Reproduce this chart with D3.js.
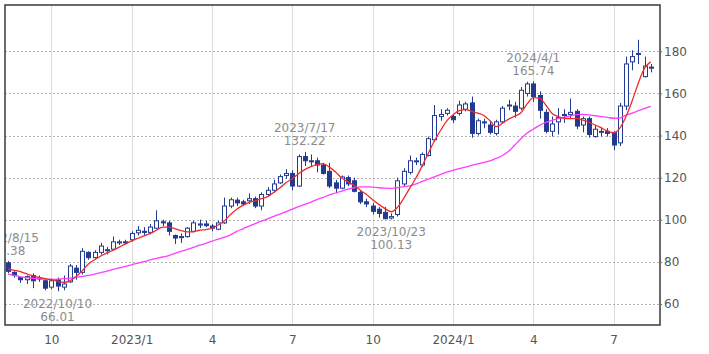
<!DOCTYPE html>
<html>
<head>
<meta charset="utf-8">
<script src="https://cdn.jsdelivr.net/npm/d3@7"></script>
<style>
  body { margin: 0; background: #fff; }
  svg { display: block; font-family: "DejaVu Sans", Verdana, sans-serif; }
</style>
</head>
<body>
<svg id="chart" width="709" height="354"></svg>
<script>
// weekly candles, first week 2022/8/15 (Mondays)
const startDate = "2022-08-15";
const opens = [79.5,75,72.5,71.5,73.5,72,71,68,71.5,68,70.5,77,75,84.5,82,84.5,85.3,86,89,89.5,
  90.5,93.8,94.5,94,96,99,98.5,92.5,91.5,92,94.5,97.5,98,97,95.5,98.5,106.5,109.3,108.5,109,
  110,106.5,112,114,117.5,121,122,116,130,128,128,126,123,117.5,115,120,118.5,113,108.5,106.5,
  105,103.5,100.8,102.5,117,122.5,127.5,126,130.5,138,149,150.5,149,150.5,152.5,155.5,141,146,145,141,
  146.5,154,154,153,160,164.5,159,151,142,146.5,149.5,150,151.5,145,148,139.5,141.5,142,141.5,136.5,
  154,175,178.5,168,172.5];
const highs = [80.38,75.5,73,73.5,74.5,73.5,71.5,72,72.5,73.5,79,78.5,86.5,85,85.5,89,87,92,90.5,90.5,
  94.5,97,96.5,98,104.5,100,99.5,93,93.5,96.5,99.5,100,99.5,98,99.5,110.5,110.5,110.5,109.5,112.5,
  111,113,115.5,119,121.5,124,123.5,131,132.22,131,129.5,127,127,119,121,121,120,114,110,108,
  106,106,103,120,124.5,130.5,129.5,132,139.5,154.5,152.5,153,150,156.5,156,158.5,148,148,147,147.5,
  154,157,156,163,165.5,165.74,161,152.5,149,153,152.5,157.5,152.5,149,149,145,144,143.5,142,155.5,
  177.5,180.5,185.5,177.5,174];
const lows = [74.5,72.5,70,69.5,67.5,70.5,66.5,67,66.01,66.5,70,71.5,74,81,81.5,83.5,83.5,85.5,88,88.5,
  89.5,92.5,92.5,93,95.5,97,92.5,88.5,89,91.5,94,96,96.5,94.5,95,98,105.5,106.5,106.5,107.5,
  105.5,104.5,111,113,117,119.5,114,115.5,125.5,125.5,122.5,121.5,115,112.5,114.5,116,113,107.5,106,102.5,
  101,100.2,100.13,101.5,116,121.5,126,125,130,137,147,149.5,146,149.5,151.5,139,140,143.5,140.5,140,
  145.5,152,148.5,152,158.5,156,148,141,139.5,140.5,146,148,143,141.5,139,139,139.5,139.5,133,135,
  152,171,174,167.5,170];
const closes = [75.5,73.5,71.5,73,71,72.3,67.5,71,68.5,69.5,78,75,85,82,84.5,87.5,85.8,89.5,89.5,89,
  93.5,95,94,96.5,99.5,98.5,94.5,91.3,92,96,98.5,98,97.2,96,98.5,106.5,109.5,108,107.5,110,
  106.5,112,114,117,120.5,122,116,130,128,127.5,126,122,116,115,120.3,117,113.5,108.5,107.5,104,
  103,100.5,101.5,118.5,123,128,128,131,138.5,149.5,150,152,147.5,154.5,155,141,147,146.5,141.5,146.5,
  153,154.5,151.5,161.5,164.5,158.5,152,142,145.5,148.5,150,151,144.5,148,140.5,143,142,141,135.5,154,
  174,177.5,179,173,172];
// 13-week (red) and 26-week (magenta) moving averages
const maShort = [76.7,76.0,75.3,74.3,73.5,72.6,72.0,71.5,70.8,70.3,71.0,73.0,75.8,79.0,81.0,82.8,84.3,85.5,87.0,88.5,
  90.0,91.2,92.3,93.5,95.0,96.5,96.5,95.8,94.8,94.2,94.3,95.0,95.3,96.0,97.5,99.5,102.5,105.0,106.8,108.2,
  109.0,110.0,111.0,113.0,115.2,117.7,119.5,121.8,123.8,125.2,126.2,126.7,125.0,122.7,119.8,118.0,116.3,114.0,112.0,109.5,
  107.3,105.3,103.8,105.8,110.0,115.0,119.8,125.5,131.5,137.5,142.5,147.0,149.8,151.8,152.3,151.5,150.6,149.5,147.0,144.2,
  145.8,147.8,149.2,150.8,155.0,158.0,157.8,154.5,150.6,149.0,148.2,148.0,148.1,147.3,146.3,145.0,143.6,142.2,141.2,143.5,
  149.0,156.5,165.0,172.0,175.0];
const maLong = [74.2,73.6,72.9,72.5,72.2,72.0,71.8,71.7,71.8,72.0,72.2,72.6,73.1,73.6,74.2,74.9,75.6,76.4,77.1,77.9,
  78.6,79.4,80.1,80.9,81.6,82.3,83.0,84.0,85.0,85.9,86.9,87.9,88.8,89.8,90.8,91.7,92.8,94.5,95.7,97.0,
  98.2,99.3,100.4,101.6,102.7,103.9,105.0,106.2,107.3,108.4,109.6,110.6,111.8,112.7,113.6,114.5,115.2,115.6,115.6,115.5,
  115.2,115.0,114.9,115.2,115.7,116.1,117.0,118.2,119.3,120.4,121.5,122.6,123.5,124.3,125.0,125.8,126.5,127.2,128.0,129.2,
  130.5,132.5,135.5,138.5,141.2,143.0,144.8,146.2,147.2,148.0,148.7,149.3,149.9,150.0,149.8,149.4,149.0,148.6,148.2,148.3,
  149.7,150.6,151.8,152.9,153.9];

const tickDates = ["2022-10-03","2023-01-02","2023-04-03","2023-07-03","2023-10-02","2024-01-01","2024-04-01","2024-07-01"];
const tickLabels = ["10","2023/1","4","7","10","2024/1","4","7"];
const yTicks = [60, 80, 100, 120, 140, 160, 180];

// peak / trough notes
const notes = [
  { date: "2022-08-15", label: "2022/8/15", value: 80.38, kind: "high" },
  { date: "2022-10-10", label: "2022/10/10", value: 66.01, kind: "low" },
  { date: "2023-07-17", label: "2023/7/17", value: 132.22, kind: "high" },
  { date: "2023-10-23", label: "2023/10/23", value: 100.13, kind: "low" },
  { date: "2024-04-01", label: "2024/4/1", value: 165.74, kind: "high" }
];

const parse = d3.utcParse("%Y-%m-%d");
const weeks = d3.utcMonday.range(parse(startDate), d3.utcDay.offset(parse(startDate), opens.length * 7));
const data = weeks.map((d, i) => ({
  date: d, open: opens[i], high: highs[i], low: lows[i], close: closes[i],
  ma13: maShort[i], ma26: maLong[i]
}));

const svg = d3.select("#chart");
const plot = { left: 5, right: 660, top: 5, bottom: 325 };

const x = d3.scaleUtc()
    .domain([d3.utcHour.offset(weeks[0], -84), d3.utcHour.offset(weeks[weeks.length - 1], 24 * 7 + 84)])
    .range([plot.left, plot.right]);
const y = d3.scaleLinear()
    .domain([50, 202])
    .range([plot.bottom, plot.top]);

svg.append("defs").append("clipPath").attr("id", "clip")
  .append("rect")
    .attr("x", plot.left).attr("y", plot.top)
    .attr("width", plot.right - plot.left).attr("height", plot.bottom - plot.top);

// vertical month grid
svg.append("g")
  .selectAll("line")
  .data(tickDates)
  .enter().append("line")
    .attr("x1", d => Math.round(x(parse(d))) + 0.5)
    .attr("x2", d => Math.round(x(parse(d))) + 0.5)
    .attr("y1", plot.top).attr("y2", plot.bottom)
    .attr("stroke", "#dcdcdc").attr("stroke-width", 1);

// horizontal dotted grid
svg.append("g")
  .selectAll("line")
  .data(yTicks)
  .enter().append("line")
    .attr("x1", plot.left).attr("x2", plot.right)
    .attr("y1", d => Math.round(y(d)) + 0.5)
    .attr("y2", d => Math.round(y(d)) + 0.5)
    .attr("stroke", "#b4b4b4").attr("stroke-dasharray", "2,2");

const g = svg.append("g").attr("clip-path", "url(#clip)");
const navy = "#233a91";
const bodyW = 4;

// wicks
g.append("g")
  .selectAll("line")
  .data(data)
  .enter().append("line")
    .attr("x1", d => Math.round(x(d.date)) + 0.5)
    .attr("x2", d => Math.round(x(d.date)) + 0.5)
    .attr("y1", d => y(d.high))
    .attr("y2", d => y(d.low))
    .attr("stroke", navy).attr("stroke-width", 1);

// bodies
g.append("g")
  .selectAll("rect")
  .data(data)
  .enter().append("rect")
    .attr("x", d => Math.round(x(d.date)) - bodyW / 2 + 0.5)
    .attr("y", d => y(Math.max(d.open, d.close)))
    .attr("width", bodyW)
    .attr("height", d => Math.max(1, Math.abs(y(d.open) - y(d.close))))
    .attr("fill", d => d.close >= d.open ? "#fff" : navy)
    .attr("stroke", navy).attr("stroke-width", 1);

// moving averages
const lineShort = d3.line().x(d => x(d.date)).y(d => y(d.ma13)).curve(d3.curveMonotoneX);
const lineLong = d3.line().x(d => x(d.date)).y(d => y(d.ma26)).curve(d3.curveMonotoneX);
g.append("path").datum(data).attr("d", lineLong)
    .attr("fill", "none").attr("stroke", "#ff3cff").attr("stroke-width", 1.3);
g.append("path").datum(data).attr("d", lineShort)
    .attr("fill", "none").attr("stroke", "#f22a2a").attr("stroke-width", 1.3);

// notes
const nt = g.append("g")
  .attr("font-size", "12px").attr("fill", "#8c8c8c").attr("text-anchor", "middle");
notes.forEach(n => {
  const cx = x(parse(n.date));
  const cy = y(n.value);
  const b1 = n.kind === "high" ? cy - 19.5 : cy + 17;
  nt.append("text").attr("x", cx).attr("y", b1).text(n.label);
  nt.append("text").attr("x", cx).attr("y", b1 + 13).text(n.value.toFixed(2));
});

// frame
svg.append("rect")
    .attr("x", plot.left).attr("y", plot.top)
    .attr("width", plot.right - plot.left).attr("height", plot.bottom - plot.top)
    .attr("fill", "none").attr("stroke", "#3a3a3a").attr("stroke-width", 1.5);

// y axis (right)
const ya = svg.append("g")
    .attr("transform", `translate(${plot.right},0)`)
    .call(d3.axisRight(y).tickValues(yTicks).tickSize(2).tickPadding(2));
ya.select(".domain").remove();
ya.selectAll("line").attr("stroke", "#666");
ya.selectAll("text").attr("fill", "#555").attr("font-size", "12px")
    .attr("font-family", "DejaVu Sans, Verdana, sans-serif");

// x axis
const xa = svg.append("g")
    .attr("transform", `translate(0,${plot.bottom})`)
    .call(d3.axisBottom(x).tickValues(tickDates.map(parse))
      .tickFormat((d, i) => tickLabels[i]).tickSize(0).tickPadding(10));
xa.select(".domain").remove();
xa.selectAll("text").attr("fill", "#555").attr("font-size", "12px")
    .attr("font-family", "DejaVu Sans, Verdana, sans-serif");
</script>
</body>
</html>
